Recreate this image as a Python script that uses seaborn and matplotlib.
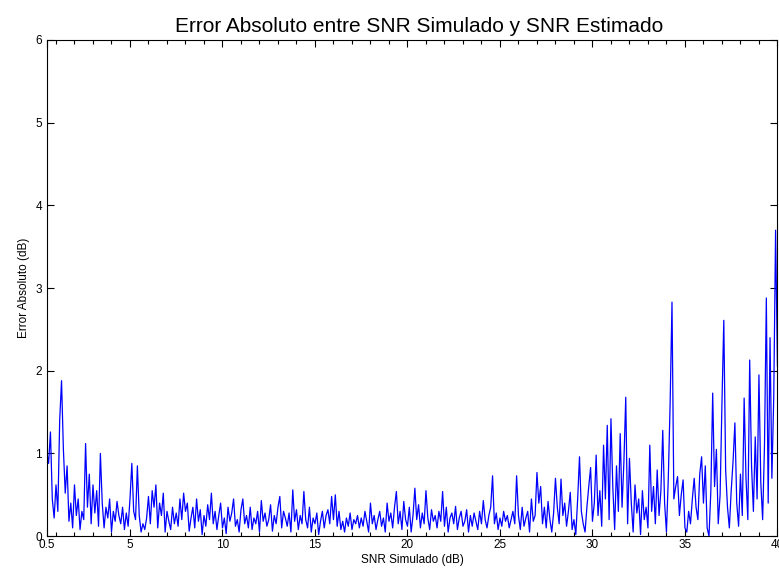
import numpy as np
import pandas as pd
import matplotlib
matplotlib.use("Agg")
import matplotlib.pyplot as plt
import seaborn as sns
from matplotlib.ticker import MultipleLocator

# SNR simulado de 0.5 a 40 dB, paso 0.1 dB
snr = np.round(np.arange(0.5, 40.01, 0.1), 1)

# error absoluto (dB), por tramos
err_0_10 = [
    1.02, 0.88, 1.26, 0.45, 0.22, 0.62, 0.30, 1.40, 1.88, 1.05,
    0.52, 0.85, 0.18, 0.40, 0.10, 0.62, 0.25, 0.45, 0.08, 0.30,
    0.20, 1.12, 0.35, 0.75, 0.15, 0.62, 0.28, 0.55, 0.12, 1.00,
    0.40, 0.10, 0.35, 0.22, 0.45, 0.05, 0.30, 0.18, 0.42, 0.25,
    0.15, 0.35, 0.08, 0.28, 0.12, 0.45, 0.88, 0.30, 0.20, 0.85,
    0.25, 0.05, 0.15, 0.08, 0.22, 0.48, 0.15, 0.55, 0.35, 0.62,
    0.10, 0.40, 0.25, 0.52, 0.05, 0.30, 0.18, 0.08, 0.35, 0.15,
    0.28, 0.12, 0.45, 0.20, 0.52, 0.30, 0.40, 0.06, 0.22, 0.35,
    0.10, 0.45, 0.18, 0.32, 0.02, 0.25, 0.12, 0.38, 0.20, 0.52,
    0.15, 0.30, 0.08, 0.25, 0.40, 0.10, 0.22, 0.03, 0.35, 0.18,
]
err_10_20 = [
    0.28, 0.45, 0.12, 0.20, 0.05, 0.32, 0.45, 0.15, 0.25, 0.10,
    0.35, 0.08, 0.22, 0.15, 0.30, 0.05, 0.43, 0.18, 0.28, 0.12,
    0.20, 0.38, 0.06, 0.25, 0.15, 0.35, 0.48, 0.10, 0.30, 0.22,
    0.12, 0.28, 0.05, 0.56, 0.18, 0.32, 0.08, 0.25, 0.15, 0.54,
    0.20, 0.10, 0.35, 0.05, 0.22, 0.15, 0.28, 0.02, 0.18, 0.30,
    0.10, 0.25, 0.32, 0.15, 0.48, 0.20, 0.50, 0.12, 0.30, 0.08,
    0.18, 0.05, 0.22, 0.12, 0.28, 0.08, 0.20, 0.15, 0.25, 0.10,
    0.22, 0.12, 0.30, 0.18, 0.05, 0.40, 0.15, 0.25, 0.08, 0.20,
    0.30, 0.12, 0.22, 0.05, 0.40, 0.18, 0.28, 0.10, 0.35, 0.54,
    0.15, 0.30, 0.08, 0.42, 0.20, 0.12, 0.35, 0.05, 0.25, 0.58,
]
err_20_30 = [
    0.20, 0.38, 0.10, 0.28, 0.15, 0.55, 0.22, 0.08, 0.32, 0.18,
    0.25, 0.10, 0.30, 0.18, 0.54, 0.12, 0.35, 0.05, 0.22, 0.28,
    0.15, 0.36, 0.08, 0.22, 0.30, 0.12, 0.18, 0.32, 0.05, 0.25,
    0.12, 0.28, 0.18, 0.08, 0.30, 0.15, 0.43, 0.20, 0.10, 0.25,
    0.35, 0.73, 0.15, 0.28, 0.08, 0.22, 0.12, 0.30, 0.18, 0.25,
    0.10, 0.20, 0.30, 0.15, 0.73, 0.25, 0.08, 0.35, 0.12, 0.22,
    0.30, 0.05, 0.45, 0.18, 0.25, 0.77, 0.40, 0.60, 0.15, 0.35,
    0.10, 0.42, 0.20, 0.05, 0.28, 0.70, 0.35, 0.15, 0.69, 0.25,
    0.40, 0.12, 0.30, 0.53, 0.08, 0.20, 0.02, 0.45, 0.96, 0.30,
    0.15, 0.05, 0.35, 0.60, 0.83, 0.18, 0.40, 0.98, 0.25, 0.55,
]
err_30_40 = [
    0.12, 1.10, 0.45, 1.34, 0.20, 1.42, 0.60, 0.08, 0.85, 0.30,
    1.24, 0.35, 0.90, 1.68, 0.15, 0.94, 0.40, 0.05, 0.62, 0.28,
    0.45, 0.02, 0.55, 0.20, 0.35, 0.10, 1.10, 0.30, 0.60, 0.15,
    0.80, 0.25, 0.55, 1.28, 0.40, 0.05, 0.70, 1.62, 2.83, 0.45,
    0.60, 0.72, 0.25, 0.50, 0.68, 0.10, 0.05, 0.30, 0.15, 0.45,
    0.70, 0.35, 0.20, 0.75, 0.96, 0.40, 0.85, 0.10, 0.00, 0.55,
    1.73, 0.60, 1.05, 0.15, 0.50, 1.60, 2.61, 0.80, 0.35, 0.10,
    0.55, 0.90, 1.37, 0.40, 0.12, 0.75, 0.25, 1.67, 0.70, 0.20,
    2.13, 0.85, 0.30, 1.20, 0.45, 1.95, 0.65, 0.20, 1.10, 2.88,
    0.40, 2.40, 0.70, 1.68, 3.70, 2.05,
]

df = pd.DataFrame({
    "snr": snr,
    "error": err_0_10 + err_10_20 + err_20_30 + err_30_40,
})

sns.set_style("ticks")
plt.rcParams["font.family"] = ["Liberation Sans", "DejaVu Sans"]
plt.rcParams["text.color"] = "black"
plt.rcParams["axes.labelcolor"] = "black"
plt.rcParams["xtick.color"] = "black"
plt.rcParams["ytick.color"] = "black"
plt.rcParams["axes.edgecolor"] = "black"

fig = plt.figure(figsize=(7.79, 5.71), dpi=100)
ax = fig.add_axes([0.060, 0.061, 0.938, 0.869])

sns.lineplot(data=df, x="snr", y="error", color="#0000ff", linewidth=0.9, ax=ax)

ax.set_xlim(0.5, 40)
ax.set_ylim(0, 6)
ax.set_xticks([0.5, 5, 10, 15, 20, 25, 30, 35, 40])
ax.set_xticklabels(["0.5", "5", "10", "15", "20", "25", "30", "35", "40"])
ax.xaxis.set_minor_locator(MultipleLocator(1))
ax.set_yticks(range(0, 7))
ax.tick_params(which="both", direction="in", top=True, right=True,
               labelsize=8.5, width=0.8, colors="black")
ax.tick_params(which="major", length=5)
ax.tick_params(which="minor", length=3)
ax.tick_params(axis="x", pad=2)
for s in ax.spines.values():
    s.set_visible(True)
    s.set_linewidth(0.8)
    s.set_color("black")

ax.set_title("Error Absoluto entre SNR Simulado y SNR Estimado", fontsize=15, pad=6,
             color="black", x=0.51)
ax.set_xlabel("SNR Simulado (dB)", fontsize=8.5, labelpad=2)
ax.set_ylabel("Error Absoluto (dB)", fontsize=8.5, labelpad=4)

fig.savefig("out.png", dpi=100)
